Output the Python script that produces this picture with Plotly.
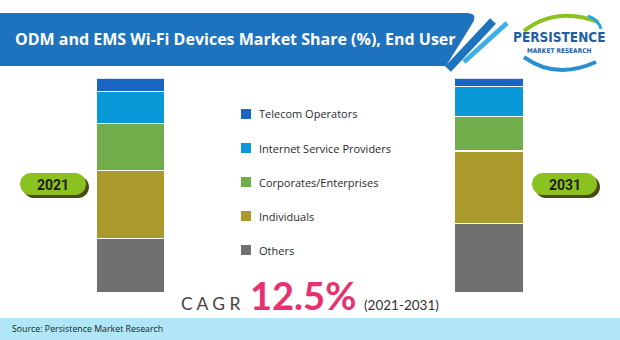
import plotly.graph_objects as go

# ---------------- data ----------------
years = ["2021", "2031"]
segments = ["Telecom Operators", "Internet Service Providers", "Corporates/Enterprises", "Individuals", "Others"]
telecom = [6, 4]
isp = [15, 14]
corporates = [22, 16]
individuals = [32, 34]
others = [25, 32]
colors = ["#1866c2", "#0a99d8", "#71ad4b", "#a99a2b", "#70706e"]
title_text = "ODM and EMS Wi-Fi Devices Market Share (%), End User"
cagr_value = "12.5%"
cagr_period = "(2021-2031)"
source_text = "Source: Persistence Market Research"

W, H = 620, 340
values_by_segment = [telecom, isp, corporates, individuals, others]

fig = go.Figure()
for name, vals, col in reversed(list(zip(segments, values_by_segment, colors))):
    fig.add_trace(go.Bar(
        x=years, y=vals, name=name, width=0.1926,
        marker=dict(color=col, line=dict(color="white", width=1.2)),
        showlegend=False, hoverinfo="skip",
    ))

def px(x):
    return x / W

def py(y):
    return 1 - y / H

shapes = []
ann = []

def add_path(cmds, fill=None, line_color=None, lw=0, close=True):
    parts = []
    for c, nums in cmds:
        pts = [f"{px(nums[i]):.5f},{py(nums[i+1]):.5f}" for i in range(0, len(nums), 2)]
        parts.append(c + " " + " ".join(pts))
    path = " ".join(parts) + (" Z" if close else "")
    shapes.append(dict(type="path", xref="paper", yref="paper", path=path,
                       fillcolor=fill if fill else "rgba(0,0,0,0)",
                       line=dict(color=line_color if line_color else "rgba(0,0,0,0)", width=lw),
                       layer="above"))

def pill(x0, y0, x1, y1):
    r = (y1 - y0) / 2
    k = 0.5523 * r
    return [("M", [x0 + r, y0]), ("L", [x1 - r, y0]),
            ("C", [x1 - r + k, y0, x1, y0 + r - k, x1, y0 + r]),
            ("C", [x1, y0 + r + k, x1 - r + k, y1, x1 - r, y1]),
            ("L", [x0 + r, y1]),
            ("C", [x0 + r - k, y1, x0, y0 + r + k, x0, y0 + r]),
            ("C", [x0, y0 + r - k, x0 + r - k, y0, x0 + r, y0])]

def line(x0, y0, x1, y1, color, w):
    shapes.append(dict(type="line", xref="paper", yref="paper",
                       x0=px(x0), y0=py(y0), x1=px(x1), y1=py(y1),
                       line=dict(color=color, width=w), layer="above"))

def text(x, y, t, family, size, color, xanchor="center", yanchor="middle", yshift=0):
    ann.append(dict(x=px(x), y=py(y), xref="paper", yref="paper", text=t, showarrow=False,
                    font=dict(family=family, size=size, color=color),
                    xanchor=xanchor, yanchor=yanchor, yshift=yshift))

# title banner
add_path([("M", [0, 13]), ("L", [466, 13]), ("Q", [479, 13, 472, 24]), ("L", [446, 66]), ("L", [0, 66])],
         fill="#1e73be")
line(448, 69, 493, 21, "#1e73be", 8)
line(464, 62, 507, 23, "#3cb0e6", 5)
text(236, 39, f"<b>{title_text}</b>", "Open Sans", 16, "white")

# logo
add_path([("M", [524, 31]), ("Q", [556, 6, 598, 22])], line_color="#8cc21f", lw=4, close=False)
add_path([("M", [588, 16]), ("Q", [599, 20, 601, 29])], line_color="#2aa7df", lw=3, close=False)
add_path([("M", [524, 57]), ("Q", [556, 80, 596, 62])], line_color="#2a8fd0", lw=4, close=False)
CONDENSED = "DejaVu Sans Condensed, Roboto Condensed, Arial Narrow, sans-serif"
text(559, 37, "<b>PERSISTENCE</b>", CONDENSED, 13.5, "#1f5fa6")
text(559, 50.5, "<b>MARKET RESEARCH</b>", CONDENSED, 6.5, "#1f5fa6")

# year pills
for (x0, x1, label) in [(20, 86, years[0]), (532, 597, years[1])]:
    add_path(pill(x0 + 3, 176, x1 + 3, 198), fill="#4a4a12")
    add_path(pill(x0, 173, x1, 195), fill="#8cc21f")
    text((x0 + x1) / 2, 184.5, f"<b>{label}</b>", "Roboto", 14, "#1e1e1e")

# legend
leg_y = [114, 148, 182, 216, 250]
for name, col, yy in zip(segments, colors, leg_y):
    shapes.append(dict(type="rect", xref="paper", yref="paper",
                       x0=px(241), x1=px(251), y0=py(yy + 5), y1=py(yy - 5),
                       fillcolor=col, line=dict(width=0)))
    text(257, yy, name, "Open Sans", 11, "#2b2b2b", xanchor="left")

# CAGR
text(243, 312, "C A G R", "Lato", 17.5, "#444444", xanchor="right", yanchor="bottom", yshift=-4)
text(248, 312, f"<b>{cagr_value}</b>", "Lato", 38, "#e8316f", xanchor="left", yanchor="bottom", yshift=-8)
text(362, 312, cagr_period, "Lato", 13.5, "#333333", xanchor="left", yanchor="bottom", yshift=-3)

# footer
shapes.append(dict(type="rect", xref="paper", yref="paper", x0=0, x1=1, y0=0, y1=py(318),
                   fillcolor="#b1e6f7", line=dict(width=0), layer="below"))
text(10, 329, source_text, "Open Sans", 8.8, "#222222", xanchor="left")

fig.update_layout(
    width=W, height=H, margin=dict(l=0, r=0, t=0, b=0),
    paper_bgcolor="white", plot_bgcolor="rgba(0,0,0,0)",
    barmode="stack", showlegend=False,
    xaxis=dict(type="category", categoryorder="array", categoryarray=years,
               range=[-0.3642, 1.3662], visible=False, fixedrange=True),
    yaxis=dict(range=[0, 100], domain=[0.1403, 0.7697], visible=False, fixedrange=True),
    shapes=shapes, annotations=ann,
)

fig.write_html("out.html")
